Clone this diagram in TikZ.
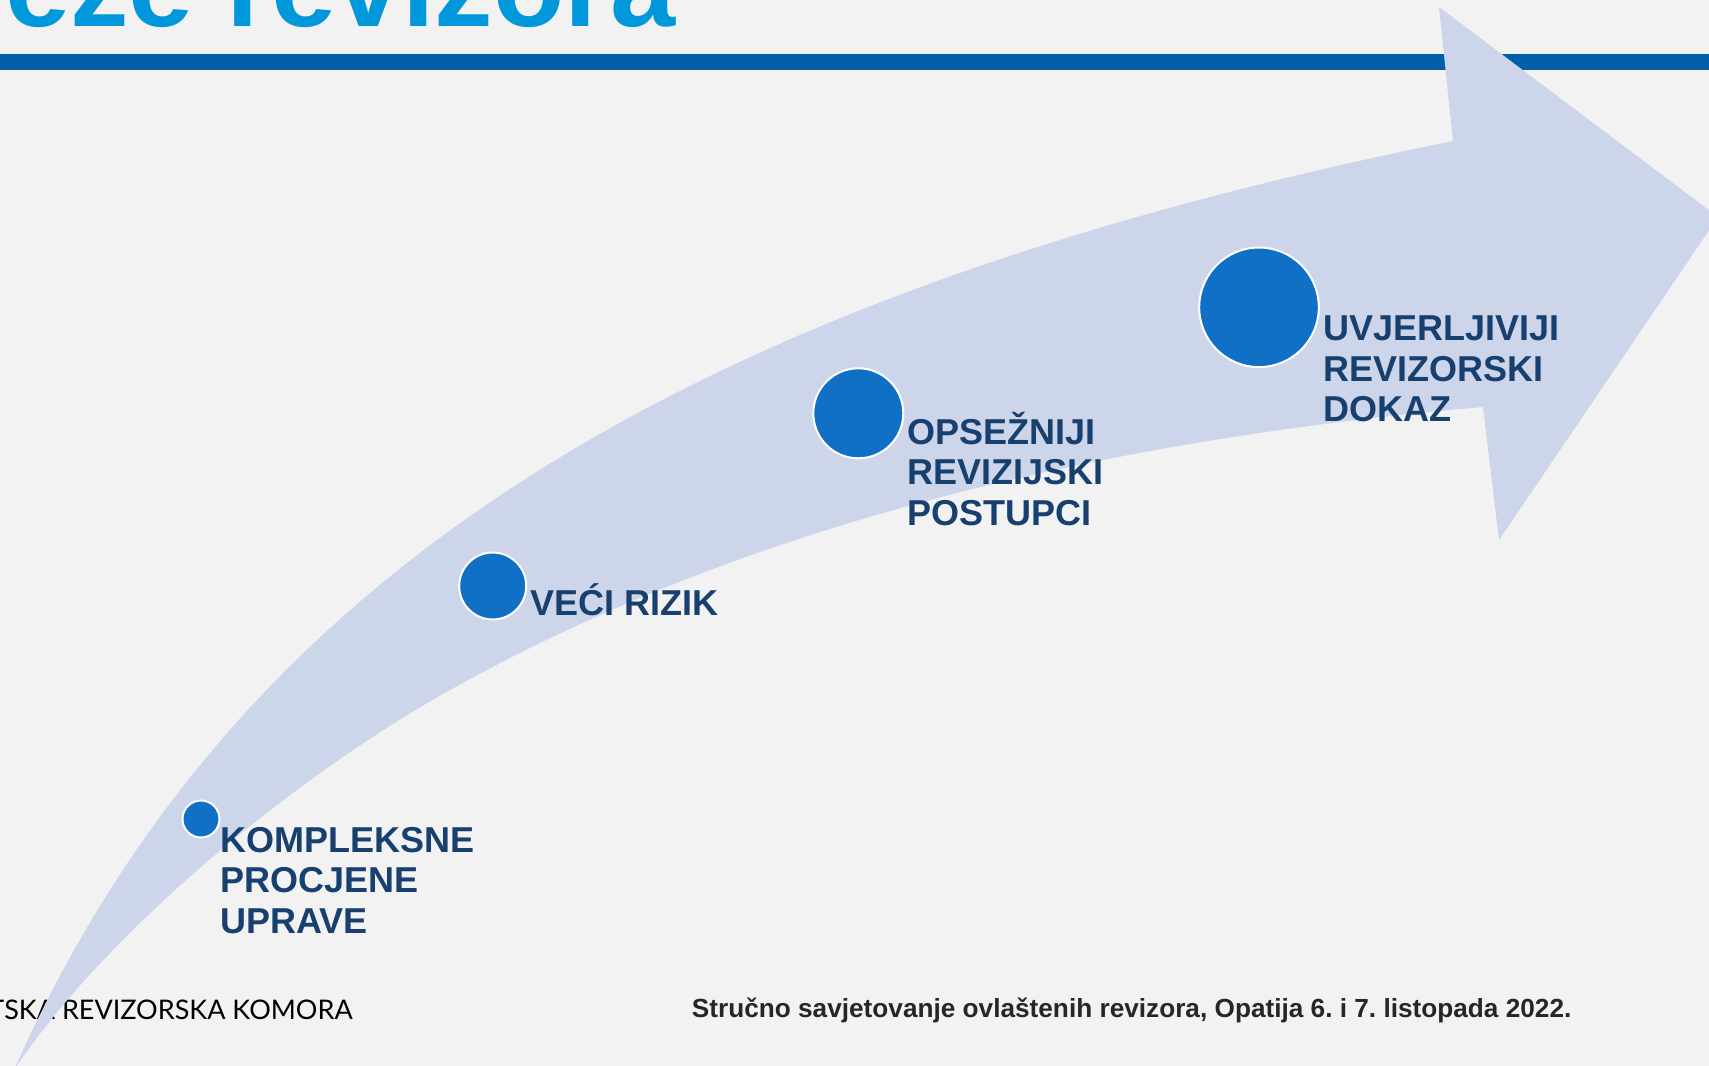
\documentclass[tikz,border=0pt]{standalone}
\usepackage{fontspec}
\setmainfont{Liberation Sans}
\newfontfamily\komorafont{Lato}
\usepackage{tikz}
\frenchspacing

\definecolor{pozadina}{HTML}{F2F2F2}
\definecolor{strelica}{HTML}{CDD5EA}
\definecolor{krug}{HTML}{1070C6}
\definecolor{tekst}{HTML}{18406E}
\definecolor{naslov}{HTML}{0098DA}
\definecolor{traka}{HTML}{005FA8}
\definecolor{podnozje}{HTML}{262626}

\begin{document}
\begin{tikzpicture}[x=0.5pt,y=-0.5pt]
	\tikzstyle{unit}=[draw=white,fill=krug,line width=1pt,shape=circle,inner sep=0pt]
	\tikzstyle{opis}=[anchor=base west,inner sep=0pt,align=left,text=tekst,font=\bfseries\fontsize{18}{20.25}\selectfont]
	
	\fill[pozadina] (0,0) rectangle (1709,1066);
	\useasboundingbox (0,0) rectangle (1709,1066);
	
	\node[anchor=base west,inner sep=0pt,text=naslov,font=\bfseries\fontsize{58.5}{60}\selectfont] (naslov) at (5,26) {eze revizora};
	\fill[traka] (0,54) rectangle (1709,69.5);
	
	\node[anchor=base east,inner sep=0pt,font=\komorafont\fontsize{13.5}{16}\selectfont] (komora) at (353,1019) {TSKA REVIZORSKA KOMORA};
	\node[anchor=base west,inner sep=0pt,text=podnozje,font=\bfseries\fontsize{13.1}{15}\selectfont] (skup) at (691.5,1017.5) {Stručno savjetovanje ovlaštenih revizora, Opatija 6. i 7. listopada 2022.};
	
	% zakrivljena strelica
	\fill[strelica] (14,1070) .. controls (236,570) and (688,296) .. (1453,141)
		-- (1439,7) -- (1718,217) -- (1499,540) -- (1483,407)
		.. controls (1127,438) and (761,516) .. (450,690)
		.. controls (284,783) and (100,940) .. (14,1070) -- cycle;
	
	\node[unit,minimum size=18.5pt](c1) at (201,819){};
	\node[unit,minimum size=33.5pt](c2) at (492.7,586){};
	\node[unit,minimum size=45pt](c3) at (858.3,413.3){};
	\node[unit,minimum size=59.8pt](c4) at (1259,307.3){};
	
	\node[opis](l1) at (220,933){KOMPLEKSNE\\PROCJENE\\UPRAVE};
	\node[opis](l2) at (530,615){VEĆI RIZIK};
	\node[opis](l3) at (907,525){OPSEŽNIJI\\REVIZIJSKI\\POSTUPCI};
	\node[opis](l4) at (1323.5,421.5){UVJERLJIVIJI\\REVIZORSKI\\DOKAZ};
	
\end{tikzpicture}
\end{document}
